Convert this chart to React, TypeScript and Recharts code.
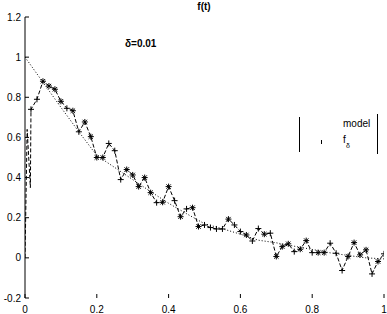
import React from 'react';
import { LineChart, Line, XAxis, YAxis } from 'recharts';

// noisy samples f_delta at t = k/60, k = 1..60
const fdValues = [
  0.74, 0.79, 0.88, 0.856, 0.84, 0.78, 0.745, 0.733, 0.628, 0.677,
  0.604, 0.5, 0.5, 0.57, 0.534, 0.39, 0.44, 0.413, 0.355, 0.4,
  0.325, 0.275, 0.277, 0.355, 0.285, 0.205, 0.244, 0.25, 0.156, 0.164,
  0.151, 0.144, 0.144, 0.193, 0.164, 0.131, 0.114, 0.084, 0.146, 0.118,
  0.123, 0.007, 0.056, 0.07, 0.031, 0.043, 0.086, 0.026, 0.026, 0.026,
  0.073, 0.023, -0.063, 0.007, 0.076, 0.015, 0.04, -0.08, -0.018, 0.02,
];
const fdMarkers = [
  '+', '+', '*', '*', '*', '*', '+', '*', '+', '*',
  '*', '*', '*', '+', '+', '+', '*', '*', '*', '*',
  '*', '+', '*', '*', '+', '*', '+', '*', '*', '+',
  '+', '+', '+', '*', '+', '+', '*', '+', '+', '*',
  '+', '*', '*', '*', '+', '*', '*', '+', '*', '*',
  '+', '+', '+', '*', '*', '*', '*', '+', '*', '+',
];
// first samples near t = 0 (no markers)
const fdStartTimes = [0, 0.006, 0.015];
const fdStartValues = [0, 0.64, 0.35];

const modelTimes = [0, 0.05, 0.1, 0.15, 0.2, 0.25, 0.3, 0.35, 0.4, 0.45, 0.5, 0.55, 0.6, 0.65, 0.7, 0.75, 0.8, 0.85, 0.9, 0.95, 1];
const modelValues = [1, 0.875, 0.75, 0.628, 0.51, 0.45, 0.39, 0.33, 0.272, 0.22, 0.17, 0.145, 0.118, 0.088, 0.075, 0.058, 0.042, 0.025, 0.012, 0, -0.005];

const xTicks = [0, 0.2, 0.4, 0.6, 0.8, 1];
const xTickLabels = ['0', '0.2', '0.4', '0.6', '0.8', '1'];
const yTicks = [-0.2, 0, 0.2, 0.4, 0.6, 0.8, 1, 1.2];
const yTickLabels = ['-0.2', '0', '0.2', '0.4', '0.6', '0.8', '1', '1.2'];

const fdData = [
  ...fdStartTimes.map((t, i) => ({ t, v: fdStartValues[i], m: '' })),
  ...fdValues.map((v, i) => ({ t: (i + 1) / 60, v, m: fdMarkers[i] })),
];
const modelData = modelTimes.map((t, i) => ({ t, v: modelValues[i] }));

const FONT = '"Liberation Sans", Arial, sans-serif';

function BottomTick(props: any) {
  const { x, y, payload, index } = props;
  const i = xTicks.indexOf(payload.value);
  return (
    <g>
      <line x1={x} x2={x} y1={y - 4} y2={y} stroke="#000" strokeWidth={1} />
      <text x={x} y={y + 15} textAnchor="middle" fontSize={10} fontFamily={FONT} fill="#000">
        {xTickLabels[i >= 0 ? i : index]}
      </text>
    </g>
  );
}
function TopTick(props: any) {
  const { x, y } = props;
  return <line x1={x} x2={x} y1={y} y2={y + 3} stroke="#000" strokeWidth={1} />;
}
function LeftTick(props: any) {
  const { x, y, payload, index } = props;
  const i = yTicks.indexOf(payload.value);
  return (
    <g>
      <line x1={x} x2={x + 4} y1={y} y2={y} stroke="#000" strokeWidth={1} />
      <text x={x - 4} y={y + 3.5} textAnchor="end" fontSize={10} fontFamily={FONT} fill="#000">
        {yTickLabels[i >= 0 ? i : index]}
      </text>
    </g>
  );
}
function RightTick(props: any) {
  const { x, y } = props;
  return <line x1={x - 4} x2={x} y1={y} y2={y} stroke="#000" strokeWidth={1} />;
}

function Marker(props: any) {
  const { cx, cy, payload, index } = props;
  const m = payload?.m;
  if (!m || cx == null || cy == null) return <g key={`d${index}`} />;
  const a = 3;
  const b = 2.2;
  return (
    <g key={`d${index}`} stroke="#000" strokeWidth={1}>
      <line x1={cx - a} x2={cx + a} y1={cy} y2={cy} />
      <line x1={cx} x2={cx} y1={cy - a} y2={cy + a} />
      {m === '*' && (
        <>
          <line x1={cx - b} x2={cx + b} y1={cy - b} y2={cy + b} />
          <line x1={cx - b} x2={cx + b} y1={cy + b} y2={cy - b} />
        </>
      )}
    </g>
  );
}

export default function App() {
  return (
    <div style={{ position: 'absolute', left: 0, top: 0, width: 387, height: 314, background: '#fff' }}>
      <LineChart width={387} height={314} margin={{ top: 17, right: 3, left: 0, bottom: 0 }}>
        <XAxis
          xAxisId="b"
          type="number"
          dataKey="t"
          domain={[0, 1]}
          ticks={xTicks}
          interval={0}
          allowDataOverflow
          axisLine={false}
          tickLine={false}
          tickSize={0}
          tickMargin={0}
          height={16}
          tick={(p: any) => <BottomTick {...p} />}
        />
        <XAxis
          xAxisId="t"
          orientation="top"
          type="number"
          dataKey="t"
          domain={[0, 1]}
          ticks={xTicks}
          interval={0}
          allowDataOverflow
          axisLine={false}
          tickLine={false}
          tickSize={0}
          tickMargin={0}
          height={0}
          tick={(p: any) => <TopTick {...p} />}
        />
        <YAxis
          yAxisId="l"
          type="number"
          domain={[-0.2, 1.2]}
          ticks={yTicks}
          interval={0}
          allowDataOverflow
          width={25}
          axisLine={{ stroke: '#000', strokeWidth: 1 }}
          tickLine={false}
          tickSize={0}
          tickMargin={0}
          tick={(p: any) => <LeftTick {...p} />}
        />
        <YAxis
          yAxisId="r"
          orientation="right"
          type="number"
          domain={[-0.2, 1.2]}
          ticks={yTicks}
          interval={0}
          allowDataOverflow
          width={0}
          axisLine={{ stroke: '#000', strokeWidth: 1 }}
          tickLine={false}
          tickSize={0}
          tickMargin={0}
          tick={(p: any) => <RightTick {...p} />}
        />
        <Line
          xAxisId="t"
          yAxisId="r"
          data={modelData}
          dataKey="v"
          type="linear"
          stroke="#000"
          strokeWidth={1}
          strokeDasharray="1 2"
          dot={false}
          isAnimationActive={false}
        />
        <Line
          xAxisId="b"
          yAxisId="l"
          data={fdData}
          dataKey="v"
          type="linear"
          stroke="#000"
          strokeWidth={1}
          strokeDasharray="4 2"
          dot={(p: any) => <Marker {...p} key={`m${p.index}`} />}
          isAnimationActive={false}
        />
      </LineChart>
      <svg width={387} height={314} style={{ position: 'absolute', left: 0, top: 0, pointerEvents: 'none' }}>
        <text x={204} y={10} textAnchor="middle" fontSize={10} fontWeight="bold" fontFamily={FONT} fill="#000">f(t)</text>
        <text x={125} y={47} fontSize={10} fontWeight="bold" fontFamily={FONT} fill="#000">δ=0.01</text>
        <line x1={299.5} x2={299.5} y1={117} y2={152} stroke="#000" strokeWidth={1} />
        <line x1={377.5} x2={377.5} y1={114} y2={154} stroke="#000" strokeWidth={1} />
        <text x={343} y={127} fontSize={10} fontFamily={FONT} fill="#000">model</text>
        <line x1={321.5} x2={321.5} y1={140} y2={144} stroke="#000" strokeWidth={1} />
        <text x={343} y={143} fontSize={10} fontFamily={FONT} fill="#000">f</text>
        <text x={346} y={148} fontSize={7} fontFamily={FONT} fill="#000">δ</text>
      </svg>
    </div>
  );
}
